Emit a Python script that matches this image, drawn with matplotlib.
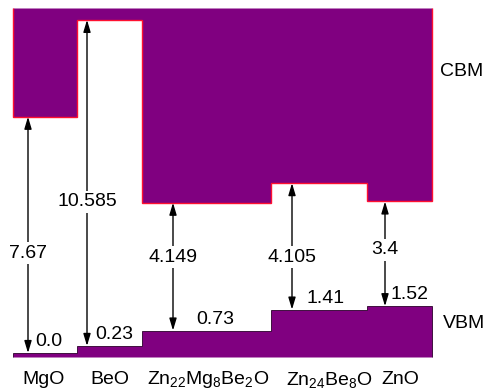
import matplotlib.pyplot as plt
import numpy as np

plt.rcParams['font.family'] = ['Liberation Sans', 'DejaVu Sans']
plt.rcParams['mathtext.fontset'] = 'custom'
plt.rcParams['mathtext.rm'] = 'Liberation Sans'
plt.rcParams['mathtext.it'] = 'Liberation Sans'

# compounds, band edges (eV)
names = ['MgO', 'BeO', r'Zn$_{\mathregular{22}}$Mg$_{\mathregular{8}}$Be$_{\mathregular{2}}$O',
         r'Zn$_{\mathregular{24}}$Be$_{\mathregular{8}}$O', 'ZnO']
vbm = [0.0, 0.23, 0.73, 1.41, 1.52]
gaps = [7.67, 10.585, 4.149, 4.105, 3.4]
vbm_labels = ['0.0', '0.23', '0.73', '1.41', '1.52']
gap_labels = ['7.67', '10.585', '4.149', '4.105', '3.4']

cbm = np.array(vbm) + np.array(gaps)

# layout (x in pixels, y in eV)
scale = 30.8  # px per eV
y0 = 353      # pixel row of 0 eV
def ev(py):
    return (y0 - py) / scale

edges = [12.7, 77, 142, 271, 367, 432]
arrow_x = [28, 87, 173, 292, 385]
gap_text_y = [ev(253), ev(202), ev(257), ev(257), ev(250)]
vbm_text_x = [49, 114, 215, 326, 409]
name_x = [44, 110, 208, 329, 400]
top = ev(8.3)
bottom = ev(357)

fig = plt.figure(figsize=(4.87, 3.9), dpi=100)
ax = fig.add_axes([0, 0, 1, 1])
ax.set_xlim(0, 487)
ax.set_ylim(ev(390), ev(0))
ax.axis('off')

purple = '#800080'
ax.stairs(cbm, edges, baseline=top, fill=True, facecolor=purple,
          edgecolor='#ff1030', linewidth=1.0)
ax.stairs(vbm, edges, baseline=bottom, fill=True, facecolor=purple,
          edgecolor='#2a002a', linewidth=0.6)

fs = 14
for i in range(len(names)):
    ax.annotate('', xy=(arrow_x[i], cbm[i]), xytext=(arrow_x[i], vbm[i]),
                arrowprops=dict(arrowstyle='<|-|>,head_length=0.6,head_width=0.18',
                                color='black', lw=1.0,
                                mutation_scale=12, shrinkA=0, shrinkB=0))
    ax.text(arrow_x[i], gap_text_y[i], gap_labels[i], ha='center',
            va='center', fontsize=fs,
            bbox=dict(facecolor='white', edgecolor='none', pad=2.0))
    ax.text(vbm_text_x[i], vbm[i] + 11.5 / scale, vbm_labels[i], ha='center',
            va='center', fontsize=fs)
    ax.text(name_x[i], ev(384.5), names[i], ha='center',
            va='baseline', fontsize=fs)

ax.text(462, ev(72), 'CBM', ha='center', va='center', fontsize=fs)
ax.text(464, ev(323), 'VBM', ha='center', va='center', fontsize=fs)

fig.savefig('out.png', dpi=100)
